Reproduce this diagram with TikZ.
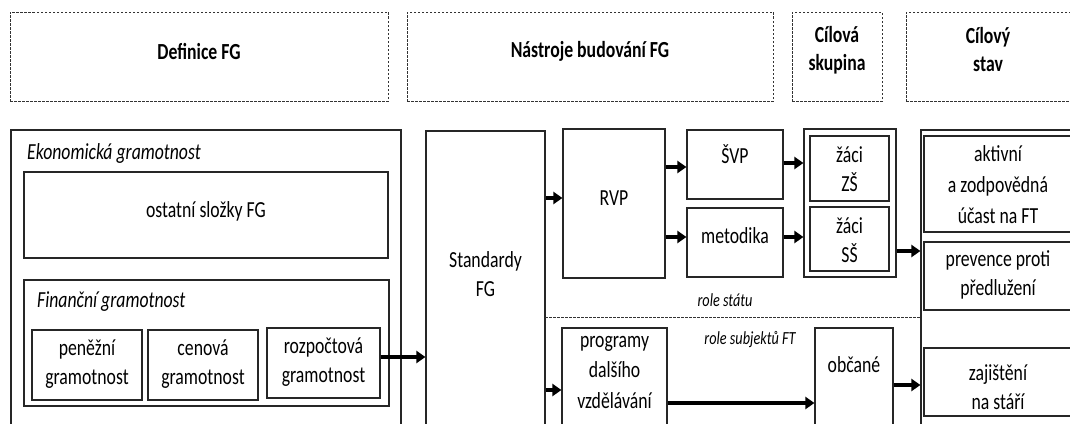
\documentclass[tikz,border=0pt]{standalone}
\usepackage{fontspec}
\setmainfont{Carlito}[FakeStretch=0.77]
\usetikzlibrary{arrows.meta,fit}
\begin{document}
\begin{tikzpicture}[x=1pt,y=-1pt,
  box/.style={draw=black!85,line width=1.2pt,inner sep=0pt},
  hdr/.style={draw=black!80,line width=0.9pt,dash pattern=on 2.5pt off 1.5pt,inner sep=0pt},
  htxt/.style={inner sep=0pt,align=center,font=\fontsize{23}{28}\selectfont\bfseries},
  lbl/.style={inner sep=0pt,font=\fontsize{23}{28}\selectfont\itshape},
  small/.style={inner sep=0pt,font=\fontsize{18.5}{20}\selectfont\itshape},
  txt/.style={inner sep=0pt,align=center,font=\fontsize{23}{28.5}\selectfont},
  arr/.style={line width=3.5pt,-{Triangle[length=9pt,width=12pt]}},
  sep/.style={draw=black!80,line width=0.9pt,dash pattern=on 2.5pt off 1.5pt}]
\useasboundingbox (0,0) rectangle (1070,423);
\clip (0,0) rectangle (1070,423);
% headers
\node[hdr,fit={(10,12) (388,101)}] (hdef) {};
\node[htxt] (hdeft) at (199,51) {Definice FG};
\node[hdr,fit={(407,12) (773,101)}] (hnas) {};
\node[htxt] (hnast) at (590,51) {Nástroje budování FG};
\node[hdr,fit={(792,12) (882,101)}] (hcil) {};
\node[htxt] (hcilt) at (837,50) {Cílová\\skupina};
\node[hdr,fit={(906,12) (1072,101)}] (hstav) {};
\node[htxt] (hstavt) at (988,50) {Cílový\\stav};
% definition column
\node[box,fit={(11,130) (401,450)}] (ek) {};
\node[lbl,anchor=west] (eklbl) at (27,153) {Ekonomická gramotnost};
\node[box,fit={(24,172) (388,258)}] (ost) {};
\node[txt] (ostt) at (206,211) {ostatní složky FG};
\node[box,fit={(24,280) (389,406)}] (fin) {};
\node[lbl,anchor=west] (finlbl) at (37,302) {Finanční gramotnost};
\node[box,fit={(32,330) (142,400)}] (pen) {};
\node[txt] (pent) at (87,364) {peněžní\\gramotnost};
\node[box,fit={(148,330) (258,400)}] (cen) {};
\node[txt] (cent) at (203,364) {cenová\\gramotnost};
\node[box,fit={(267,328) (380,398)}] (roz) {};
\node[txt] (rozt) at (323.5,362) {rozpočtová\\gramotnost};
% tools column
\node[box,fit={(426,131) (545,450)}] (std) {};
\node[txt] (stdt) at (485.5,274) {Standardy\\FG};
\node[box,fit={(563,129) (665,278)}] (rvp) {};
\node[txt] (rvpt) at (614,198) {RVP};
\node[box,fit={(687,130) (783,199)}] (svp) {};
\node[txt] (svpt) at (735,154) {ŠVP};
\node[box,fit={(687,208) (783,277)}] (met) {};
\node[txt] (mett) at (735,236) {metodika};
\node[small] (rs) at (725,300) {role státu};
\coordinate (sepa) at (545,317);
\coordinate (sepb) at (921,317);
\draw[sep] (sepa) -- (sepb);
\node[small] (rsub) at (750,340) {role subjektů FT};
\node[box,fit={(562,328) (667,450)}] (prog) {};
\node[txt,font=\fontsize{23}{30.5}\selectfont] (progt) at (614.5,372) {programy\\dalšího\\vzdělávání};
% target group
\node[box,fit={(804,129) (896,277)}] (cs) {};
\node[box,fit={(810,136) (889,201)}] (zs) {};
\node[txt] (zst) at (849.5,169) {žáci\\ZŠ};
\node[box,fit={(810,207) (889,271)}] (ss) {};
\node[txt] (sst) at (849.5,240) {žáci\\SŠ};
\node[box,fit={(815,328) (893,450)}] (obc) {};
\node[txt] (obct) at (854,365) {občané};
% target state
\node[box,fit={(921,130) (1080,450)}] (stav) {};
\node[box,fit={(924,136) (1072,232)}] (akt) {};
\node[txt,font=\fontsize{23}{31}\selectfont] (aktt) at (998,185) {aktivní\\a zodpovědná\\účast na FT};
\node[box,fit={(924,242) (1072,310)}] (prev) {};
\node[txt] (prevt) at (998,275) {prevence proti\\předlužení};
\node[box,fit={(924,348) (1072,416)}] (zaj) {};
\node[txt] (zajt) at (998,387) {zajištění\\na stáří};
% arrows
\draw[arr] (roz.east |- 0,357) -- (std.west |- 0,357);
\draw[arr] (std.east |- 0,198) -- (rvp.west |- 0,198);
\draw[arr] (rvp.east |- 0,167) -- (svp.west |- 0,167);
\draw[arr] (rvp.east |- 0,237) -- (met.west |- 0,237);
\draw[arr] (svp.east |- 0,163) -- (cs.west |- 0,163);
\draw[arr] (met.east |- 0,237) -- (cs.west |- 0,237);
\draw[arr] (cs.east |- 0,251) -- (stav.west |- 0,251);
\draw[arr] (std.east |- 0,390) -- (prog.west |- 0,390);
\draw[arr,line width=4.5pt] (prog.east |- 0,403) -- (obc.west |- 0,403);
\draw[arr] (obc.east |- 0,385) -- (stav.west |- 0,385);
\end{tikzpicture}
\end{document}
